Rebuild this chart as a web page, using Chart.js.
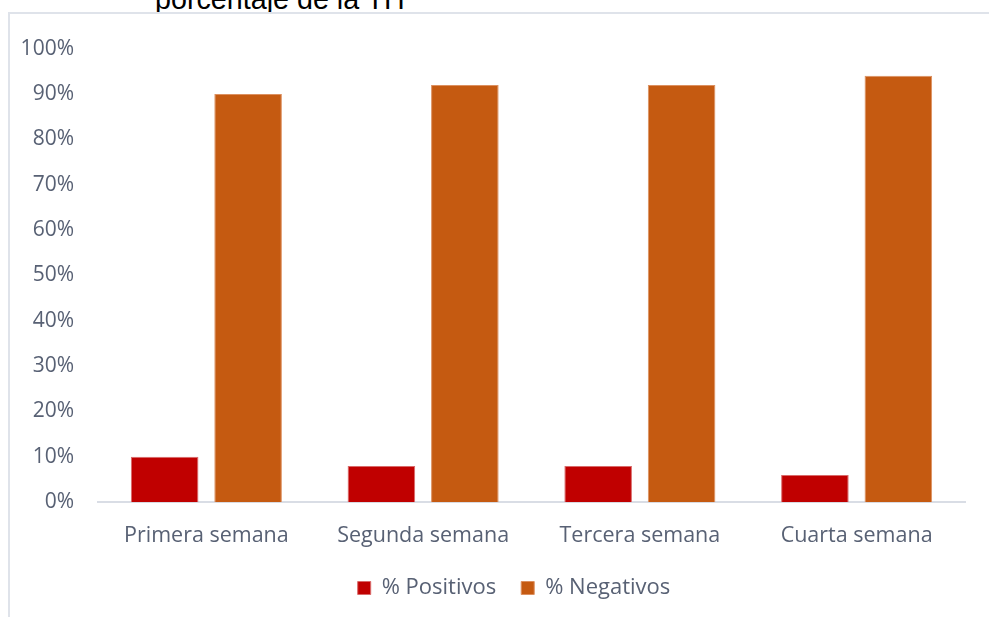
<!DOCTYPE html>
<html>
<head>
<meta charset="utf-8">
<script src="https://cdn.jsdelivr.net/npm/chart.js@4"></script>
<style>
    html, body {
        margin: 0;
        padding: 0;
        background: #ffffff;
        width: 989px;
        height: 617px;
        overflow: hidden;
        position: relative;
    }
    .title {
        position: absolute;
        left: 155px;
        top: -15px;
        font-family: 'Liberation Sans', Arial, sans-serif;
        font-size: 28.7px;
        line-height: 29px;
        color: #000000;
        white-space: nowrap;
    }
    .chart-box {
        position: absolute;
        left: 8px;
        top: 12px;
        width: 1010px;
        height: 620px;
        background: #ffffff;
        border-left: 2px solid #dfe3ea;
        border-top: 2px solid #dfe3ea;
    }
    canvas {
        position: absolute;
        left: 0;
        top: -2px;
    }
</style>
</head>
<body>
<div class="title">porcentaje de la TH</div>
<div class="chart-box">
    <canvas id="chart" width="1008" height="605"></canvas>
</div>
<script>
// Chart data
const categories = ['Primera semana', 'Segunda semana', 'Tercera semana', 'Cuarta semana'];
const positivos = [10, 8, 8, 6];
const negativos = [90, 92, 92, 94];
const yTicks = [0, 10, 20, 30, 40, 50, 60, 70, 80, 90, 100];

const textColor = '#586174';
const fontFamily = "'Open Sans', sans-serif";

const ctx = document.getElementById('chart').getContext('2d');

new Chart(ctx, {
    type: 'bar',
    data: {
        labels: categories,
        datasets: [
            {
                label: '% Positivos',
                data: positivos,
                backgroundColor: '#c00000',
                borderColor: '#d96a6a',
                borderWidth: 1
            },
            {
                label: '% Negativos',
                data: negativos,
                backgroundColor: '#c55a11',
                borderColor: '#dc9060',
                borderWidth: 1
            }
        ]
    },
    options: {
        responsive: false,
        animation: false,
        categoryPercentage: 0.77,
        barPercentage: 0.81,
        layout: {
            padding: { top: 25, right: 0, left: 0, bottom: 8 }
        },
        scales: {
            x: {
                grid: { display: false, drawTicks: false },
                border: { display: true, color: '#d9dde5', width: 2 },
                afterFit: (scale) => {
                    scale.height -= 18;
                },
                ticks: {
                    color: textColor,
                    padding: 21,
                    font: { family: fontFamily, size: 21.5 }
                }
            },
            y: {
                min: 0,
                max: 100,
                afterBuildTicks: (scale) => {
                    scale.ticks = yTicks.map(v => ({ value: v }));
                },
                afterFit: (scale) => {
                    scale.width = 88;
                },
                grid: { display: false, drawTicks: false },
                border: { display: false },
                ticks: {
                    color: textColor,
                    padding: 24,
                    font: { family: fontFamily, size: 21 },
                    callback: (v) => v + '%'
                }
            },
            // empty space on the right so the legend stays centred on the box
            spacer: {
                type: 'linear',
                position: 'right',
                grid: { display: false, drawTicks: false },
                border: { display: false },
                ticks: { display: false },
                afterFit: (scale) => {
                    scale.width = 53;
                }
            }
        },
        plugins: {
            legend: {
                position: 'bottom',
                labels: {
                    color: textColor,
                    boxWidth: 13,
                    boxHeight: 13,
                    padding: 25,
                    font: { family: fontFamily, size: 22 }
                }
            },
            tooltip: { enabled: false }
        }
    }
});
</script>
</body>
</html>
